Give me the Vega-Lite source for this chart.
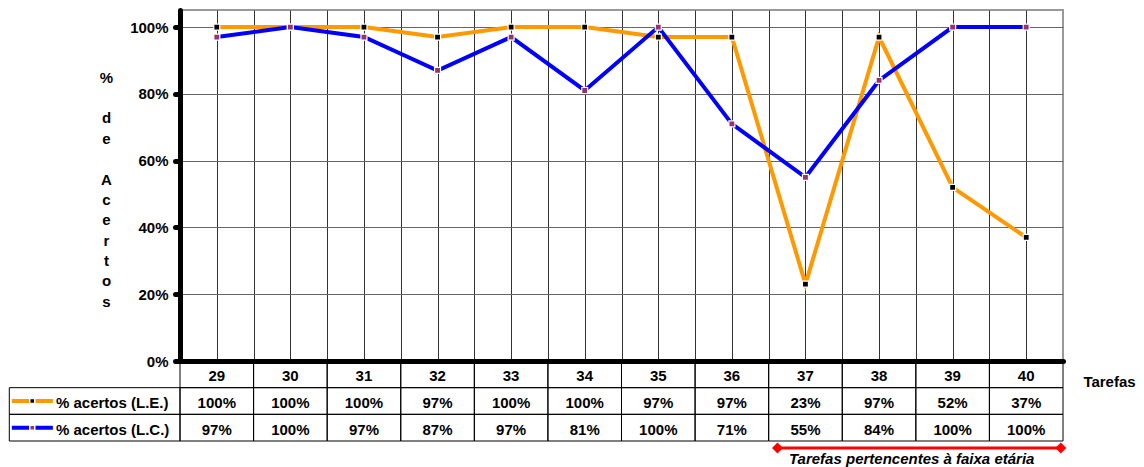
{
  "$schema": "https://vega.github.io/schema/vega-lite/v6.json",
  "width": 883,
  "height": 351,
  "autosize": {"type": "none"},
  "padding": {"left": 180, "top": 10, "right": 81, "bottom": 106},
  "background": "white",
  "config": {
    "view": {"stroke": "#999999", "strokeWidth": 2},
    "font": "Liberation Sans"
  },
  "datasets": {
    "acertos": [
      {"tarefa": 29, "serie": "L.E.", "valor": 1.00},
      {"tarefa": 30, "serie": "L.E.", "valor": 1.00},
      {"tarefa": 31, "serie": "L.E.", "valor": 1.00},
      {"tarefa": 32, "serie": "L.E.", "valor": 0.97},
      {"tarefa": 33, "serie": "L.E.", "valor": 1.00},
      {"tarefa": 34, "serie": "L.E.", "valor": 1.00},
      {"tarefa": 35, "serie": "L.E.", "valor": 0.97},
      {"tarefa": 36, "serie": "L.E.", "valor": 0.97},
      {"tarefa": 37, "serie": "L.E.", "valor": 0.23},
      {"tarefa": 38, "serie": "L.E.", "valor": 0.97},
      {"tarefa": 39, "serie": "L.E.", "valor": 0.52},
      {"tarefa": 40, "serie": "L.E.", "valor": 0.37},
      {"tarefa": 29, "serie": "L.C.", "valor": 0.97},
      {"tarefa": 30, "serie": "L.C.", "valor": 1.00},
      {"tarefa": 31, "serie": "L.C.", "valor": 0.97},
      {"tarefa": 32, "serie": "L.C.", "valor": 0.87},
      {"tarefa": 33, "serie": "L.C.", "valor": 0.97},
      {"tarefa": 34, "serie": "L.C.", "valor": 0.81},
      {"tarefa": 35, "serie": "L.C.", "valor": 1.00},
      {"tarefa": 36, "serie": "L.C.", "valor": 0.71},
      {"tarefa": 37, "serie": "L.C.", "valor": 0.55},
      {"tarefa": 38, "serie": "L.C.", "valor": 0.84},
      {"tarefa": 39, "serie": "L.C.", "valor": 1.00},
      {"tarefa": 40, "serie": "L.C.", "valor": 1.00}
    ],
    "legenda": [
      {"serie": "L.E.", "rotulo": "% acertos (L.E.)"},
      {"serie": "L.C.", "rotulo": "% acertos (L.C.)"}
    ],
    "faixa": [
      {"inicio": 37, "fim": 40, "texto": "Tarefas pertencentes à faixa etária"}
    ]
  },
  "layer": [
    {
      "data": {"name": "acertos"},
      "encoding": {
        "x": {
          "field": "tarefa", "type": "quantitative",
          "scale": {"domain": [28.5, 40.5], "nice": false, "zero": false},
          "axis": {
            "values": [29, 29.5, 30, 30.5, 31, 31.5, 32, 32.5, 33, 33.5, 34, 34.5, 35, 35.5, 36, 36.5, 37, 37.5, 38, 38.5, 39, 39.5, 40],
            "grid": true, "gridColor": "#333333", "gridWidth": 1,
            "labels": false, "ticks": false,
            "domain": true, "domainColor": "black", "domainWidth": 5, "domainCap": "round",
            "title": "Tarefas", "titleX": 929, "titleY": 20, "titleAlign": "center", "titleBaseline": "middle", "titleAngle": 0,
            "titleFont": "Liberation Sans", "titleFontSize": 15, "titleFontWeight": "bold", "titleColor": "black"
          }
        },
        "y": {
          "field": "valor", "type": "quantitative",
          "scale": {"domain": [0, 1.051], "nice": false},
          "axis": {
            "values": [0, 0.2, 0.4, 0.6, 0.8, 1],
            "format": ".0%",
            "grid": true, "gridColor": "#666666", "gridWidth": 1,
            "domain": true, "domainColor": "black", "domainWidth": 5, "domainCap": "round",
            "ticks": true, "tickColor": "black", "tickSize": 5, "tickWidth": 5, "tickCap": "round",
            "labelFont": "Liberation Sans", "labelFontSize": 15, "labelFontWeight": "bold", "labelColor": "black", "labelPadding": 7,
            "title": ["%", "\u200b", "d", "e", "\u200b", "A", "c", "e", "r", "t", "o", "s"],
            "titleAngle": 0, "titleX": -74, "titleY": 67, "titleAlign": "center", "titleBaseline": "middle", "titleLineHeight": 20.4,
            "titleFont": "Liberation Sans", "titleFontSize": 15, "titleFontWeight": "bold", "titleColor": "black"
          }
        }
      },
      "layer": [
        {
          "transform": [{"filter": "datum.serie === 'L.E.'"}],
          "mark": {"type": "line", "strokeWidth": 4},
          "encoding": {
            "stroke": {"field": "serie", "type": "nominal", "scale": {"domain": ["L.E.", "L.C."], "range": ["#FF9900", "#0000FF"]}, "legend": null}
          }
        },
        {
          "transform": [{"filter": "datum.serie === 'L.C.'"}],
          "mark": {"type": "line", "strokeWidth": 4},
          "encoding": {
            "stroke": {"field": "serie", "type": "nominal", "scale": {"domain": ["L.E.", "L.C."], "range": ["#FF9900", "#0000FF"]}, "legend": null}
          }
        },
        {
          "mark": {"type": "point", "shape": "square", "filled": true, "size": 36, "stroke": "white", "strokeWidth": 1.2, "opacity": 1},
          "encoding": {
            "fill": {"field": "serie", "type": "nominal", "scale": {"domain": ["L.E.", "L.C."], "range": ["#000000", "#993366"]}, "legend": null}
          }
        }
      ]
    },
    {
      "layer": [
        {
          "layer": [
            {
              "data": {"name": "acertos"},
              "mark": {"type": "rect", "fillOpacity": 0, "stroke": "black", "strokeWidth": 1},
              "encoding": {
                "x": {"field": "tarefa", "type": "ordinal", "scale": {"type": "band", "domain": [29, 30, 31, 32, 33, 34, 35, 36, 37, 38, 39, 40], "range": [0, 883], "paddingInner": 0, "paddingOuter": 0}, "axis": null},
                "y": {"field": "serie", "type": "nominal", "scale": {"type": "band", "domain": ["h", "L.E.", "L.C."], "range": [351, 431], "paddingInner": 0, "paddingOuter": 0}, "axis": null}
              }
            },
            {
              "data": {"name": "acertos"},
              "transform": [{"filter": "datum.serie === 'L.E.'"}],
              "mark": {"type": "rect", "fillOpacity": 0, "stroke": "black", "strokeWidth": 1},
              "encoding": {
                "x": {"field": "tarefa", "type": "ordinal", "scale": {"type": "band", "domain": [29, 30, 31, 32, 33, 34, 35, 36, 37, 38, 39, 40], "range": [0, 883], "paddingInner": 0, "paddingOuter": 0}, "axis": null},
                "y": {"datum": "h", "type": "nominal", "scale": {"type": "band", "domain": ["h", "L.E.", "L.C."], "range": [351, 431], "paddingInner": 0, "paddingOuter": 0}, "axis": null}
              }
            },
            {
              "data": {"name": "acertos"},
              "mark": {"type": "text", "font": "Liberation Sans", "fontSize": 15, "fontWeight": "bold", "color": "black", "baseline": "middle", "dy": 2},
              "encoding": {
                "x": {"field": "tarefa", "type": "ordinal", "scale": {"type": "band", "domain": [29, 30, 31, 32, 33, 34, 35, 36, 37, 38, 39, 40], "range": [0, 883], "paddingInner": 0, "paddingOuter": 0}, "axis": null},
                "y": {"field": "serie", "type": "nominal", "scale": {"type": "band", "domain": ["h", "L.E.", "L.C."], "range": [351, 431], "paddingInner": 0, "paddingOuter": 0}, "axis": null},
                "text": {"field": "valor", "type": "quantitative", "format": ".0%"}
              }
            },
            {
              "data": {"name": "acertos"},
              "transform": [{"filter": "datum.serie === 'L.E.'"}],
              "mark": {"type": "text", "font": "Liberation Sans", "fontSize": 15, "fontWeight": "bold", "color": "black", "baseline": "middle", "dy": 2},
              "encoding": {
                "x": {"field": "tarefa", "type": "ordinal", "scale": {"type": "band", "domain": [29, 30, 31, 32, 33, 34, 35, 36, 37, 38, 39, 40], "range": [0, 883], "paddingInner": 0, "paddingOuter": 0}, "axis": null},
                "y": {"datum": "h", "type": "nominal", "scale": {"type": "band", "domain": ["h", "L.E.", "L.C."], "range": [351, 431], "paddingInner": 0, "paddingOuter": 0}, "axis": null},
                "text": {"field": "tarefa", "type": "nominal"}
              }
            },
            {
              "data": {"name": "faixa"},
              "mark": {"type": "rule", "color": "#FF0000", "strokeWidth": 3, "yOffset": 20.3},
              "encoding": {
                "x": {"field": "inicio", "type": "ordinal", "bandPosition": 0.12, "scale": {"type": "band", "domain": [29, 30, 31, 32, 33, 34, 35, 36, 37, 38, 39, 40], "range": [0, 883], "paddingInner": 0, "paddingOuter": 0}, "axis": null},
                "x2": {"field": "fim", "bandPosition": 0.97},
                "y": {"datum": "L.C.", "type": "nominal", "scale": {"type": "band", "domain": ["h", "L.E.", "L.C."], "range": [351, 431], "paddingInner": 0, "paddingOuter": 0}, "axis": null}
              }
            },
            {
              "data": {"name": "faixa"},
              "mark": {"type": "point", "shape": "diamond", "filled": true, "color": "#FF0000", "size": 121, "opacity": 1, "yOffset": 20.3},
              "encoding": {
                "x": {"field": "inicio", "type": "ordinal", "bandPosition": 0.12, "scale": {"type": "band", "domain": [29, 30, 31, 32, 33, 34, 35, 36, 37, 38, 39, 40], "range": [0, 883], "paddingInner": 0, "paddingOuter": 0}, "axis": null},
                "y": {"datum": "L.C.", "type": "nominal", "scale": {"type": "band", "domain": ["h", "L.E.", "L.C."], "range": [351, 431], "paddingInner": 0, "paddingOuter": 0}, "axis": null}
              }
            },
            {
              "data": {"name": "faixa"},
              "mark": {"type": "point", "shape": "diamond", "filled": true, "color": "#FF0000", "size": 121, "opacity": 1, "yOffset": 20.3},
              "encoding": {
                "x": {"field": "fim", "type": "ordinal", "bandPosition": 0.97, "scale": {"type": "band", "domain": [29, 30, 31, 32, 33, 34, 35, 36, 37, 38, 39, 40], "range": [0, 883], "paddingInner": 0, "paddingOuter": 0}, "axis": null},
                "y": {"datum": "L.C.", "type": "nominal", "scale": {"type": "band", "domain": ["h", "L.E.", "L.C."], "range": [351, 431], "paddingInner": 0, "paddingOuter": 0}, "axis": null}
              }
            },
            {
              "data": {"name": "faixa"},
              "mark": {"type": "text", "font": "Liberation Sans", "fontSize": 15, "fontWeight": "bold", "fontStyle": "italic", "color": "black", "align": "left", "baseline": "middle", "dx": 11.5, "dy": 31},
              "encoding": {
                "x": {"field": "inicio", "type": "ordinal", "bandPosition": 0.12, "scale": {"type": "band", "domain": [29, 30, 31, 32, 33, 34, 35, 36, 37, 38, 39, 40], "range": [0, 883], "paddingInner": 0, "paddingOuter": 0}, "axis": null},
                "y": {"datum": "L.C.", "type": "nominal", "scale": {"type": "band", "domain": ["h", "L.E.", "L.C."], "range": [351, 431], "paddingInner": 0, "paddingOuter": 0}, "axis": null},
                "text": {"field": "texto", "type": "nominal"}
              }
            }
          ]
        },
        {
          "data": {"name": "legenda"},
          "encoding": {
            "x": {"datum": "legenda", "type": "nominal", "scale": {"type": "band", "domain": ["legenda"], "range": [-170.7, 0], "paddingInner": 0, "paddingOuter": 0}, "axis": null},
            "y": {"field": "serie", "type": "nominal", "scale": {"type": "band", "domain": ["h", "L.E.", "L.C."], "range": [351, 431], "paddingInner": 0, "paddingOuter": 0}, "axis": null}
          },
          "layer": [
            {"mark": {"type": "rect", "fillOpacity": 0, "stroke": "black", "strokeWidth": 1}},
            {
              "mark": {"type": "point", "shape": "stroke", "filled": false, "size": 1681, "strokeWidth": 4, "opacity": 1, "xOffset": -62.3},
              "encoding": {
                "stroke": {"field": "serie", "type": "nominal", "scale": {"domain": ["L.E.", "L.C."], "range": ["#FF9900", "#0000FF"]}, "legend": null}
              }
            },
            {
              "mark": {"type": "point", "shape": "square", "filled": true, "size": 25, "stroke": "white", "strokeWidth": 1.5, "opacity": 1, "xOffset": -62.4},
              "encoding": {
                "fill": {"field": "serie", "type": "nominal", "scale": {"domain": ["L.E.", "L.C."], "range": ["#000000", "#993366"]}, "legend": null}
              }
            },
            {
              "mark": {"type": "text", "font": "Liberation Sans", "fontSize": 15, "fontWeight": "bold", "color": "black", "align": "left", "baseline": "middle", "dx": -38.7, "dy": 2},
              "encoding": {"text": {"field": "rotulo", "type": "nominal"}}
            }
          ]
        }
      ],
      "resolve": {"scale": {"x": "independent"}, "axis": {"x": "independent"}}
    }
  ],
  "resolve": {"scale": {"x": "independent", "y": "independent"}, "axis": {"x": "independent", "y": "independent"}}
}
